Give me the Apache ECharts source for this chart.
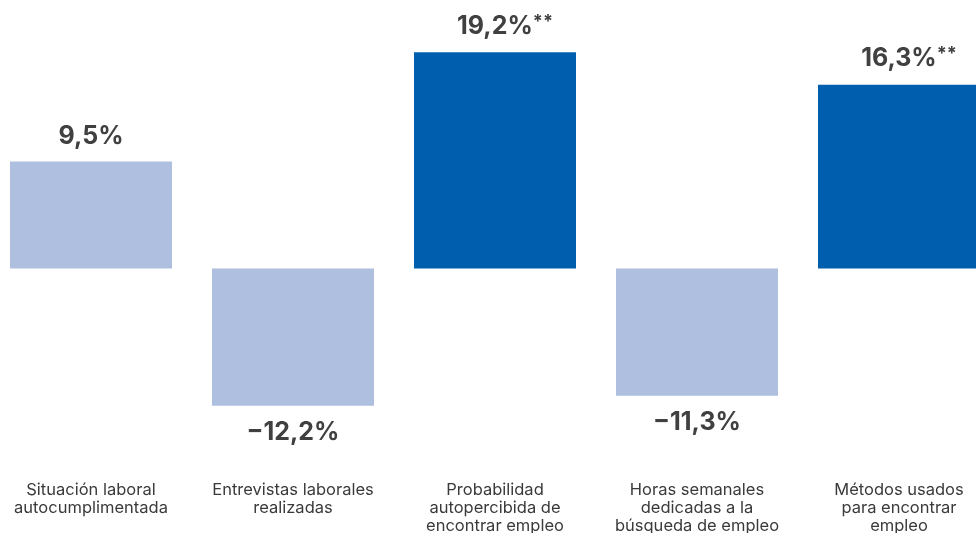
<!DOCTYPE html>
<html>
<head>
<meta charset="utf-8">
<script src="https://cdn.jsdelivr.net/npm/echarts@6/dist/echarts.min.js"></script>
<style>
html,body{margin:0;padding:0;background:#fff;overflow:hidden;width:976px;height:533px;}
#c{width:1010px;height:533px;margin-left:-10px;}
</style>
</head>
<body>
<div id="c"></div>
<script>
const categories = [
  "Situación laboral\nautocumplimentada",
  "Entrevistas laborales\nrealizadas",
  "Probabilidad\nautopercibida de\nencontrar empleo",
  "Horas semanales\ndedicadas a la\nbúsqueda de empleo",
  "Métodos usados\npara encontrar\nempleo"
];
const values = [9.5, -12.2, 19.2, -11.3, 16.3];
const significance = ["", "", "**", "", "**"];

const LIGHT = "#AFBFE0", DARK = "#005EAE";
const fmt = v => (v < 0 ? "−" : "") + Math.abs(v).toFixed(1).replace(".", ",") + "%";

const data = values.map((v, i) => ({
  value: v,
  itemStyle: { color: significance[i] ? DARK : LIGHT },
  label: {
    position: v >= 0 ? "top" : "bottom",
    distance: v >= 0 ? 12 : 14,
    formatter: significance[i]
      ? "{v2|" + fmt(v) + "}{s|" + significance[i] + "}"
      : "{v|" + fmt(v) + "}"
  }
}));

const chart = echarts.init(document.getElementById("c"), null, { renderer: "canvas" });
chart.setOption({
  animation: false,
  backgroundColor: "#fff",
  grid: { left: 0, right: 0, top: 43.2, bottom: 61.8, containLabel: false, outerBoundsMode: "none" },
  xAxis: {
    type: "category",
    data: categories,
    axisLine: { show: false, onZero: false },
    axisTick: { show: false },
    axisLabel: {
      interval: 0,
      margin: 10,
      color: "#3a3a3a",
      fontFamily: "Inter",
      fontSize: 16.5,
      lineHeight: 18,
      verticalAlign: "top"
    }
  },
  yAxis: {
    type: "value",
    min: -18, max: 20,
    show: false,
    splitLine: { show: false }
  },
  series: [{
    type: "bar",
    data: data,
    barWidth: 162,
    label: {
      show: true,
      rich: {
        v: { fontFamily: "Inter", fontWeight: "bold", fontSize: 25, color: "#404040" },
        v2: { fontFamily: "Inter", fontWeight: "bold", fontSize: 25, color: "#404040", padding: [0, 0, 0, 20] },
        s: { fontFamily: "Inter", fontWeight: "bold", fontSize: 18, color: "#404040", verticalAlign: "top", padding: [0, 0, 10, 0] }
      }
    }
  }]
});
</script>
</body>
</html>
